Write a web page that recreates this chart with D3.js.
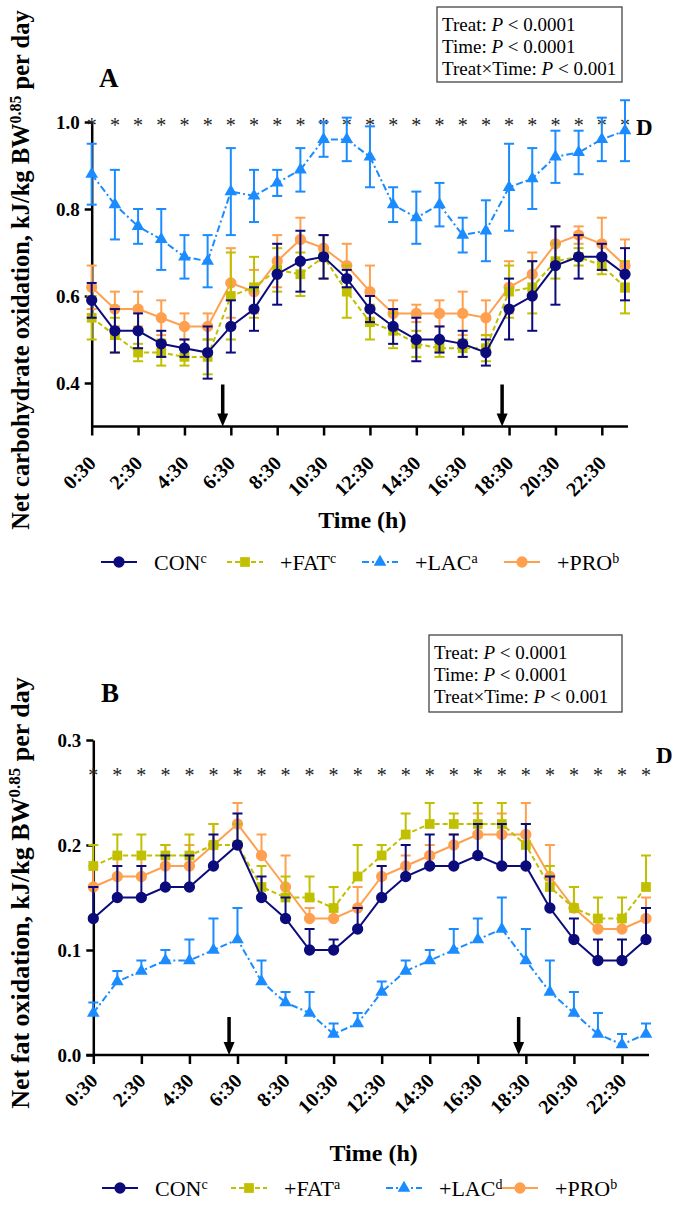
<!DOCTYPE html>
<html>
<head>
<meta charset="utf-8">
<script src="https://cdn.jsdelivr.net/npm/d3@7"></script>
<style>
  body { margin: 0; background: #fff; }
  svg { display: block; }
  text { font-family: "Liberation Serif", "Times New Roman", serif; }
</style>
</head>
<body>
<svg id="chart"></svg>
<script>
// time points (every hour, half past)
const hours = ["0:30","1:30","2:30","3:30","4:30","5:30","6:30","7:30","8:30","9:30","10:30","11:30",
  "12:30","13:30","14:30","15:30","16:30","17:30","18:30","19:30","20:30","21:30","22:30","23:30"];
const tickLabels = ["0:30","2:30","4:30","6:30","8:30","10:30","12:30","14:30","16:30","18:30","20:30","22:30"];
const arrowTimes = [6.15, 18.2];   // meals

const groups = ["CON", "+FAT", "+LAC", "+PRO"];
const lettersA = ["c", "c", "a", "b"];
const lettersB = ["c", "a", "d", "b"];
const statLines = [["Treat: ", "< 0.0001"], ["Time: ", "< 0.0001"], ["Treat\u00d7Time: ", "< 0.001"]];

// Panel A: net carbohydrate oxidation (mean, SE)
const carbCON   = [0.59,0.52,0.52,0.49,0.48,0.47,0.53,0.57,0.65,0.68,0.69,0.64,0.57,0.53,0.50,0.50,0.49,0.47,0.57,0.60,0.67,0.69,0.69,0.65];
const carbCONse = [0.04,0.05,0.04,0.03,0.02,0.06,0.06,0.05,0.07,0.07,0.05,0.02,0.03,0.04,0.05,0.03,0.03,0.03,0.07,0.08,0.09,0.05,0.03,0.06];
const carbFAT   = [0.55,0.51,0.47,0.47,0.46,0.46,0.60,0.62,0.66,0.65,0.69,0.61,0.54,0.52,0.49,0.48,0.48,0.48,0.61,0.62,0.68,0.69,0.67,0.62];
const carbFATse = [0.05,0.04,0.02,0.03,0.02,0.04,0.10,0.07,0.05,0.05,0.05,0.06,0.04,0.04,0.03,0.02,0.02,0.03,0.06,0.06,0.04,0.02,0.02,0.06];
const carbLAC   = [0.88,0.81,0.76,0.73,0.69,0.68,0.84,0.83,0.86,0.89,0.96,0.96,0.92,0.81,0.78,0.81,0.74,0.75,0.85,0.87,0.92,0.93,0.96,0.98];
const carbLACse = [0.07,0.08,0.04,0.07,0.05,0.06,0.10,0.06,0.03,0.05,0.04,0.05,0.07,0.04,0.06,0.05,0.04,0.07,0.10,0.07,0.06,0.05,0.05,0.07];
const carbPRO   = [0.62,0.57,0.57,0.55,0.53,0.53,0.63,0.61,0.68,0.73,0.71,0.67,0.61,0.56,0.56,0.56,0.56,0.55,0.62,0.65,0.72,0.74,0.72,0.67];
const carbPROse = [0.05,0.04,0.04,0.04,0.03,0.03,0.08,0.05,0.06,0.05,0.03,0.05,0.06,0.03,0.02,0.03,0.05,0.04,0.06,0.05,0.04,0.02,0.06,0.06];

// Panel B: net fat oxidation (mean, SE)
const fatCON   = [0.13,0.15,0.15,0.16,0.16,0.18,0.20,0.15,0.13,0.10,0.10,0.12,0.15,0.17,0.18,0.18,0.19,0.18,0.18,0.14,0.11,0.09,0.09,0.11];
const fatCONse = [0.03,0.03,0.03,0.03,0.03,0.03,0.03,0.02,0.02,0.02,0.01,0.02,0.03,0.03,0.03,0.03,0.03,0.04,0.04,0.03,0.02,0.02,0.02,0.03];
const fatFAT   = [0.18,0.19,0.19,0.19,0.19,0.20,0.20,0.16,0.15,0.15,0.14,0.17,0.19,0.21,0.22,0.22,0.22,0.22,0.20,0.16,0.14,0.13,0.13,0.16];
const fatFATse = [0.02,0.02,0.02,0.01,0.02,0.02,0.02,0.02,0.02,0.02,0.02,0.03,0.01,0.02,0.02,0.01,0.02,0.02,0.02,0.02,0.02,0.02,0.02,0.03];
const fatLAC   = [0.04,0.07,0.08,0.09,0.09,0.10,0.11,0.07,0.05,0.04,0.02,0.03,0.06,0.08,0.09,0.10,0.11,0.12,0.09,0.06,0.04,0.02,0.01,0.02];
const fatLACse = [0.01,0.01,0.01,0.01,0.02,0.03,0.03,0.02,0.01,0.02,0.01,0.01,0.01,0.01,0.01,0.02,0.02,0.03,0.03,0.03,0.02,0.02,0.01,0.01];
const fatPRO   = [0.16,0.17,0.17,0.18,0.18,0.20,0.22,0.19,0.16,0.13,0.13,0.14,0.17,0.18,0.19,0.20,0.21,0.21,0.21,0.17,0.14,0.12,0.12,0.13];
const fatPROse = [0.02,0.02,0.02,0.02,0.02,0.02,0.02,0.02,0.03,0.01,0.01,0.02,0.01,0.01,0.01,0.01,0.02,0.02,0.03,0.03,0.02,0.01,0.01,0.02];

const colors = ["#0b0b7c", "#c0c000", "#1a8cff", "#ffa04f"];
const dashes = [null, "5,3", "7,3,2,3", null];
const symbols = [d3.symbolCircle, d3.symbolSquare, d3.symbolTriangle, d3.symbolCircle];
const symSize = [100, 95, 70, 100];
const drawOrder = [3, 1, 2, 0];

const width = 675, height = 1207;
const svg = d3.select("#chart").attr("width", width).attr("height", height);

const hourNum = h => +h.split(":")[0] + 0.5;

function drawPanel(cfg) {
  const g = svg.append("g");
  const x = d3.scaleLinear().domain([0.5, 23.5]).range(cfg.xRange);
  const y = d3.scaleLinear().domain(cfg.yDomain).range(cfg.yRange);
  const axisY = cfg.yRange[0];

  // y axis
  const yAx = g.append("g")
    .attr("transform", `translate(${cfg.xRange[0]},0)`)
    .call(d3.axisLeft(y).tickValues(cfg.yTicks).tickFormat(d3.format(".1f")).tickSize(7).tickSizeOuter(0).tickPadding(5));
  yAx.selectAll("path, line").attr("stroke", "#000").attr("stroke-width", 2.5);
  yAx.selectAll("text").style("font-size", "19px").style("font-weight", "bold").attr("fill", "#000");

  // x axis
  const xAx = g.append("g")
    .attr("transform", `translate(0,${axisY})`)
    .call(d3.axisBottom(x).tickValues(tickLabels.map(hourNum)).tickFormat((d, i) => tickLabels[i]).tickSize(9).tickSizeOuter(0));
  xAx.select(".domain").attr("d", `M${cfg.xRange[0] - (cfg.xLeft || 0)},0H${cfg.xRange[1] + 3}`);
  xAx.selectAll("path, line").attr("stroke", "#000").attr("stroke-width", 2.5);
  xAx.selectAll("text")
    .style("font-size", "20px").style("font-weight", "bold").attr("fill", "#000")
    .attr("text-anchor", "end")
    .attr("x", 0).attr("y", 0).attr("dy", 0)
    .attr("transform", `translate(5,${cfg.labelDrop}) rotate(-45)`);

  // axis titles
  g.append("text")
    .attr("x", (cfg.xRange[0] + cfg.xRange[1]) / 2 + 4)
    .attr("y", cfg.timeY)
    .attr("text-anchor", "middle")
    .style("font-size", "24px").style("font-weight", "bold")
    .text("Time (h)");

  const yt = g.append("text")
    .attr("transform", `translate(${cfg.titleX},${cfg.titleY}) rotate(-90)`)
    .attr("text-anchor", "middle")
    .style("font-size", cfg.titleSize + "px").style("font-weight", "bold");
  yt.append("tspan").text(cfg.title + " BW");
  yt.append("tspan").attr("baseline-shift", "super").style("font-size", (cfg.titleSize * 0.65) + "px").text("0.85");
  yt.append("tspan").text(" per day");

  // panel letter
  g.append("text").attr("x", cfg.letterPos[0]).attr("y", cfg.letterPos[1])
    .style("font-size", "27px").style("font-weight", "bold").text(cfg.letter);

  // significance stars
  g.selectAll(".star").data(hours).join("text")
    .attr("x", d => x(hourNum(d)))
    .attr("y", y(cfg.starValue) + 10)
    .attr("text-anchor", "middle")
    .attr("fill", "#222")
    .style("font-size", "20px")
    .text("*");
  g.append("text").attr("x", cfg.dPos[0]).attr("y", cfg.dPos[1])
    .style("font-size", "23px").style("font-weight", "bold").text("D");

  // stats box
  const box = g.append("g").attr("transform", `translate(${cfg.box[0]},${cfg.box[1]})`);
  box.append("rect").attr("width", cfg.box[2]).attr("height", cfg.box[3])
    .attr("fill", "#fff").attr("stroke", "#444").attr("stroke-width", 1.3);
  statLines.forEach((l, i) => {
    const t = box.append("text").attr("x", 5).attr("y", 24 + i * 22).style("font-size", "19px");
    t.append("tspan").text(l[0]);
    t.append("tspan").style("font-style", "italic").text("P");
    t.append("tspan").text(" " + l[1]);
  });

  // meal arrows
  cfg.arrows.forEach(t => {
    const ax = x(t);
    g.append("line").attr("x1", ax).attr("x2", ax)
      .attr("y1", axisY - cfg.arrowLen).attr("y2", axisY - 10)
      .attr("stroke", "#000").attr("stroke-width", 3.5);
    g.append("path").attr("d", `M${ax - 5.5},${axisY - 13}L${ax + 5.5},${axisY - 13}L${ax},${axisY}Z`).attr("fill", "#000");
  });

  // series
  const line = d3.line().x((d, i) => x(hourNum(hours[i]))).y(d => y(d));
  drawOrder.forEach(k => {
    const vals = cfg.series[k][0], se = cfg.series[k][1];
    const sg = g.append("g");
    vals.forEach((v, i) => {
      const cx = x(hourNum(hours[i]));
      const lo = cfg.twoSided ? v - se[i] : v;
      const hi = v + se[i];
      sg.append("line").attr("x1", cx).attr("x2", cx).attr("y1", y(lo)).attr("y2", y(hi))
        .attr("stroke", colors[k]).attr("stroke-width", 2);
      sg.append("line").attr("x1", cx - 5).attr("x2", cx + 5).attr("y1", y(hi)).attr("y2", y(hi))
        .attr("stroke", colors[k]).attr("stroke-width", 2);
      if (cfg.twoSided) {
        sg.append("line").attr("x1", cx - 5).attr("x2", cx + 5).attr("y1", y(lo)).attr("y2", y(lo))
          .attr("stroke", colors[k]).attr("stroke-width", 2);
      }
    });
    sg.append("path").datum(vals).attr("d", line)
      .attr("fill", "none").attr("stroke", colors[k]).attr("stroke-width", 2)
      .attr("stroke-dasharray", dashes[k]);
    sg.selectAll(".pt").data(vals).join("path")
      .attr("transform", (d, i) => `translate(${x(hourNum(hours[i]))},${y(d)})`)
      .attr("d", d3.symbol().type(symbols[k]).size(symSize[k]))
      .attr("fill", colors[k]);
  });

  // legend
  groups.forEach((name, k) => {
    const lx = cfg.legendX[k], ly = cfg.legendY;
    g.append("line").attr("x1", lx).attr("x2", lx + 36).attr("y1", ly).attr("y2", ly)
      .attr("stroke", colors[k]).attr("stroke-width", 2).attr("stroke-dasharray", dashes[k]);
    g.append("path").attr("transform", `translate(${lx + 18},${ly})`)
      .attr("d", d3.symbol().type(symbols[k]).size(symSize[k]))
      .attr("fill", colors[k]);
    const t = g.append("text").attr("x", lx + 53).attr("y", ly + 8).style("font-size", "22px");
    t.append("tspan").text(name);
    t.append("tspan").attr("baseline-shift", "super").style("font-size", "14px").text(cfg.letters[k]);
  });
}

drawPanel({
  letter: "A", letterPos: [99, 87],
  xRange: [91.7, 625], yRange: [426.5, 122], yDomain: [0.3, 1.0], yTicks: [0.4, 0.6, 0.8, 1.0],
  series: [[carbCON, carbCONse], [carbFAT, carbFATse], [carbLAC, carbLACse], [carbPRO, carbPROse]],
  twoSided: true, starValue: 1.0, dPos: [636, 135],
  box: [437, 7, 185, 75],
  arrows: arrowTimes, arrowLen: 42, labelDrop: 38,
  timeY: 528, legendY: 562, legendX: [101, 227, 362, 504], letters: lettersA,
  title: "Net carbohydrate oxidation, kJ/kg", titleX: 29, titleY: 270, titleSize: 24.5
});

drawPanel({
  letter: "B", letterPos: [101, 702],
  xRange: [93.3, 646], yRange: [1055, 740], yDomain: [0, 0.3], yTicks: [0, 0.1, 0.2, 0.3],
  series: [[fatCON, fatCONse], [fatFAT, fatFATse], [fatLAC, fatLACse], [fatPRO, fatPROse]],
  twoSided: false, starValue: 0.27, dPos: [656, 763],
  box: [429, 635, 193, 77], xLeft: 7,
  arrows: arrowTimes, arrowLen: 38, labelDrop: 27,
  timeY: 1161, legendY: 1188, legendX: [102, 231, 386, 502], letters: lettersB,
  title: "Net fat oxidation, kJ/kg", titleX: 29, titleY: 893, titleSize: 26
});
</script>
</body>
</html>
